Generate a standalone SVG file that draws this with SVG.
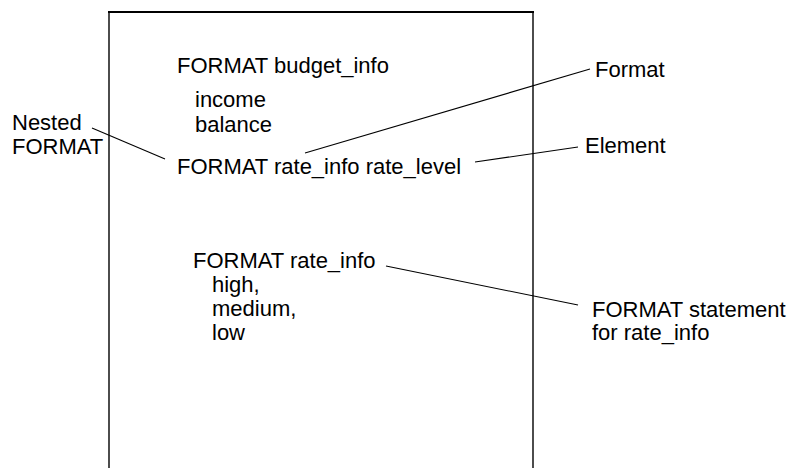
<svg xmlns="http://www.w3.org/2000/svg" width="793" height="468" viewBox="0 0 793 468">
<style>
text{font-family:"Liberation Sans",Arial,sans-serif;font-size:22px;fill:#000}
.lead{stroke:#000;stroke-width:1.1;fill:none}
.frame{stroke:#000;fill:none}
</style>
<rect width="793" height="468" fill="#fff"/>
<g id="frame">
<line class="frame" x1="108" y1="12" x2="534" y2="12" stroke-width="2.2"/>
<line class="frame" x1="109" y1="11" x2="109" y2="468" stroke-width="1.4"/>
<line class="frame" x1="533" y1="11" x2="533" y2="468" stroke-width="1.4"/>
</g>
<g id="budget_info">
<text x="177" y="73">FORMAT budget_info</text>
<text x="195" y="107">income</text>
<text x="195" y="132">balance</text>
</g>
<g id="rate_level">
<text x="177" y="174">FORMAT rate_info rate_level</text>
</g>
<g id="rate_info">
<text x="193" y="268">FORMAT rate_info</text>
<text x="212" y="292">high,</text>
<text x="212" y="316">medium,</text>
<text x="212" y="340">low</text>
</g>
<g id="label_nested">
<text x="12" y="130">Nested</text>
<text x="12" y="154">FORMAT</text>
</g>
<g id="label_format"><text x="595" y="77">Format</text></g>
<g id="label_element"><text x="585" y="153">Element</text></g>
<g id="label_statement">
<text x="592" y="317">FORMAT statement</text>
<text x="592" y="340">for rate_info</text>
</g>
<g id="connectors">
<line class="lead" x1="92" y1="128" x2="165" y2="159"/>
<line class="lead" x1="305" y1="153" x2="590" y2="69"/>
<line class="lead" x1="475" y1="162" x2="578" y2="147"/>
<line class="lead" x1="386" y1="266" x2="578" y2="305"/>
</g>
</svg>
